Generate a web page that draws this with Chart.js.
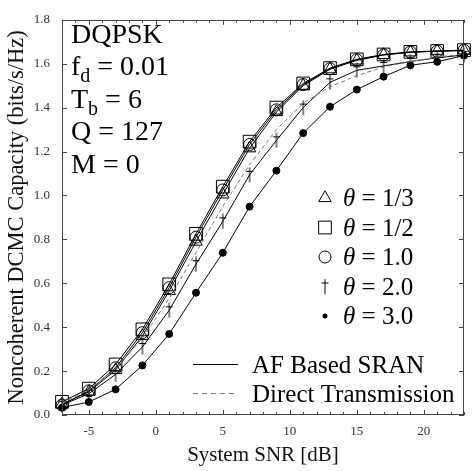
<!DOCTYPE html>
<html><head><meta charset="utf-8">
<script src="https://cdn.jsdelivr.net/npm/chart.js@4.4.1/dist/chart.umd.min.js"></script>
<style>html,body{margin:0;padding:0;background:#fff;}#wrap{width:474px;height:471px;}</style>
</head><body><div id="wrap"><canvas id="c" width="474" height="471"></canvas></div>
<script>
// ---- data ----
const snr = [-7, -5, -3, -1, 1, 3, 5, 7, 9, 11, 13, 15, 17, 19, 21, 23];
const theta13 = [0.050, 0.105, 0.205, 0.360, 0.565, 0.790, 1.005, 1.215, 1.380, 1.500, 1.575, 1.615, 1.640, 1.652, 1.657, 1.660];
const theta12 = [0.060, 0.120, 0.230, 0.390, 0.595, 0.825, 1.040, 1.245, 1.400, 1.510, 1.580, 1.620, 1.642, 1.654, 1.658, 1.662];
const theta10 = [0.045, 0.110, 0.215, 0.375, 0.580, 0.810, 1.025, 1.232, 1.390, 1.505, 1.577, 1.618, 1.640, 1.653, 1.657, 1.661];
const theta20 = [0.045, 0.097, 0.185, 0.310, 0.477, 0.687, 0.882, 1.094, 1.251, 1.400, 1.515, 1.570, 1.590, 1.610, 1.627, 1.640];
const theta30 = [0.034, 0.059, 0.117, 0.226, 0.369, 0.557, 0.739, 0.949, 1.113, 1.284, 1.404, 1.482, 1.541, 1.593, 1.609, 1.637];
const directTx = [0.055, 0.115, 0.210, 0.350, 0.530, 0.740, 0.950, 1.140, 1.300, 1.420, 1.495, 1.545, 1.585, 1.610, 1.630, 1.645];
const xTickLabels = [-5, 0, 5, 10, 15, 20];
const yTickLabels = ['0.0','0.2','0.4','0.6','0.8','1.0','1.2','1.4','1.6','1.8'];
const thetaLabels = ['1/3', '1/2', '1.0', '2.0', '3.0'];
const lineLabels = ['AF Based SRAN', 'Direct Transmission'];
const infoText = [
  {main: 'DQPSK'},
  {main: 'f', sub: 'd', rest: ' = 0.01'},
  {main: 'T', sub: 'b', rest: ' = 6'},
  {main: 'Q = 127'},
  {main: 'M = 0'}
];
const xTitle = 'System SNR [dB]';
const yTitle = 'Noncoherent DCMC Capacity (bits/s/Hz)';

const SERIF = '"Liberation Serif", "Times New Roman", serif';

// dagger marker
function makeDagger() {
  const c = document.createElement('canvas');
  c.width = 10; c.height = 16;
  const g = c.getContext('2d');
  g.strokeStyle = '#000'; g.lineWidth = 1;
  g.beginPath();
  g.moveTo(5, 0.5); g.lineTo(5, 15.5);
  g.moveTo(1.5, 4.5); g.lineTo(8.5, 4.5);
  g.stroke();
  return c;
}
const dagger = makeDagger();

function pts(arr) { return snr.map((x, i) => ({x: x, y: arr[i]})); }

function ds(arr, style, radius, fill, dash, color) {
  return {
    data: pts(arr),
    borderColor: color || '#000',
    borderWidth: 1,
    borderDash: dash || [],
    pointStyle: style,
    pointRadius: radius,
    pointBorderColor: '#000',
    pointBorderWidth: 1,
    pointBackgroundColor: fill || 'rgba(0,0,0,0)',
    tension: 0,
    clip: false
  };
}

const datasets = [
  ds(directTx, 'circle', 0, null, [4, 3], '#777'),
  ds(theta30, 'circle', 3.5, '#000'),
  ds(theta20, dagger, 5),
  ds(theta10, 'circle', 6),
  ds(theta12, 'rect', 9),
  ds(theta13, 'triangle', 7.2)
];

function drawMarker(ctx, kind, x, y) {
  ctx.save();
  ctx.strokeStyle = '#000'; ctx.fillStyle = '#000'; ctx.lineWidth = 1;
  ctx.beginPath();
  if (kind === 0) { // triangle
    const r = 7.2;
    for (let k = 0; k < 3; k++) {
      const a = k * 2 * Math.PI / 3;
      const px = x + Math.sin(a) * r, py = y - Math.cos(a) * r;
      if (k === 0) ctx.moveTo(px, py); else ctx.lineTo(px, py);
    }
    ctx.closePath(); ctx.stroke();
  } else if (kind === 1) {
    const s = 9 * Math.SQRT1_2;
    ctx.rect(x - s, y - s, 2 * s, 2 * s); ctx.stroke();
  } else if (kind === 2) {
    ctx.arc(x, y, 6, 0, 2 * Math.PI); ctx.stroke();
  } else if (kind === 3) {
    ctx.drawImage(dagger, x - dagger.width / 2, y - dagger.height / 2);
  } else {
    ctx.arc(x, y, 2.5, 0, 2 * Math.PI); ctx.fill();
  }
  ctx.restore();
}

const decor = {
  id: 'decor',
  afterDatasetsDraw(chart) {
    const ctx = chart.ctx;
    const a = chart.chartArea;
    const xs = chart.scales.x, ys = chart.scales.y;
    ctx.save();
    // frame
    ctx.strokeStyle = '#444'; ctx.lineWidth = 1;
    ctx.strokeRect(Math.round(a.left) + 0.5, Math.round(a.top) + 0.5, Math.round(a.right - a.left) - 1, Math.round(a.bottom - a.top) - 1);
    // inner ticks
    ctx.beginPath();
    xs.ticks.forEach(t => {
      const px = Math.round(xs.getPixelForValue(t.value)) + 0.5;
      const len = (t.value % 5 === 0) ? 5 : 3;
      ctx.moveTo(px, a.bottom); ctx.lineTo(px, a.bottom - len);
      ctx.moveTo(px, a.top); ctx.lineTo(px, a.top + len);
    });
    ys.ticks.forEach(t => {
      const py = Math.round(ys.getPixelForValue(t.value)) + 0.5;
      ctx.moveTo(a.left, py); ctx.lineTo(a.left + 5, py);
      ctx.moveTo(a.right, py); ctx.lineTo(a.right - 5, py);
    });
    ctx.stroke();

    // info text block
    ctx.fillStyle = '#000';
    ctx.textBaseline = 'alphabetic';
    ctx.textAlign = 'left';
    const big = '28px ' + SERIF, small = '20px ' + SERIF;
    infoText.forEach((ln, i) => {
      const y = 42.7 + i * 32.5;
      let x = 71;
      ctx.font = big; ctx.fillText(ln.main, x, y); x += ctx.measureText(ln.main).width;
      if (ln.sub) {
        ctx.font = small; ctx.fillText(ln.sub, x, y + 7); x += ctx.measureText(ln.sub).width;
        ctx.font = big; ctx.fillText(ln.rest, x, y);
      }
    });

    // theta legend
    const lf = '25px ' + SERIF, lfi = 'italic 25px ' + SERIF;
    thetaLabels.forEach((lab, i) => {
      const base = 206 + i * 29.5;
      drawMarker(ctx, i, 325, base - 8);
      let x = 343;
      ctx.font = lfi; ctx.fillText('\u03b8', x, base); x += ctx.measureText('\u03b8').width;
      ctx.font = lf; ctx.fillText(' = ' + lab, x, base);
    });

    // line legend
    ctx.font = lf;
    ctx.fillText(lineLabels[0], 252, 372.5);
    ctx.fillText(lineLabels[1], 252, 402);
    ctx.beginPath(); ctx.strokeStyle = '#000'; ctx.setLineDash([]);
    ctx.moveTo(193, 364.5); ctx.lineTo(238, 364.5); ctx.stroke();
    ctx.beginPath(); ctx.strokeStyle = '#777'; ctx.setLineDash([5, 4]);
    ctx.moveTo(193, 393.5); ctx.lineTo(238, 393.5); ctx.stroke();
    ctx.restore();
  }
};

new Chart(document.getElementById('c'), {
  type: 'line',
  data: {datasets: datasets},
  plugins: [decor],
  options: {
    responsive: false,
    animation: false,
    events: [],
    layout: {padding: {top: 9, right: 2, left: 0, bottom: 0}},
    plugins: {legend: {display: false}, tooltip: {enabled: false}},
    scales: {
      x: {
        type: 'linear', min: -7, max: 23,
        grid: {display: false, drawTicks: false},
        border: {display: false},
        ticks: {
          stepSize: 1, autoSkip: false, maxRotation: 0, padding: 9,
          color: '#333', font: {family: SERIF, size: 13},
          callback: v => xTickLabels.includes(v) ? String(v) : ''
        },
        title: {display: true, text: xTitle, color: '#111', font: {family: SERIF, size: 21}, padding: {top: 0, bottom: 3}},
        afterFit: s => { s.height = 56; }
      },
      y: {
        type: 'linear', min: 0, max: 1.8,
        grid: {display: false, drawTicks: false},
        border: {display: false},
        ticks: {
          stepSize: 0.2, padding: 12,
          color: '#333', font: {family: SERIF, size: 13},
          callback: v => yTickLabels[Math.round(v / 0.2)]
        },
        title: {display: true, text: yTitle, color: '#111', font: {family: SERIF, size: 22.5}, padding: {top: 4, bottom: 0}},
        afterFit: s => { s.width = 62; }
      }
    }
  }
});
</script>
</body></html>
